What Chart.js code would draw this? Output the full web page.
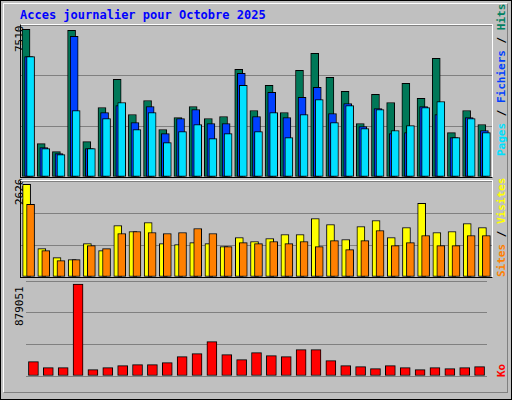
<!DOCTYPE html>
<html><head><meta charset="utf-8">
<script src="https://cdn.jsdelivr.net/npm/chart.js@4"></script>
<style>
html,body{margin:0;padding:0;}
body{width:512px;height:400px;background:#c0c0c0;position:relative;overflow:hidden;font-family:"DejaVu Sans Mono",monospace;}
#frame{position:absolute;left:0;top:0;width:510px;height:398px;border:1px solid #000;box-sizing:content-box;}
#inner{position:absolute;left:3px;top:3px;width:503px;height:388px;border-top:1px solid #fff;border-left:1px solid #fff;border-right:1px solid #808080;border-bottom:1px solid #808080;}
.t{position:absolute;white-space:nowrap;}
.rot{transform-origin:0 0;transform:rotate(-90deg);}
.panel{position:absolute;left:20px;width:471px;border-left:1px solid #000;border-bottom:1px solid #000;border-top:1px solid #fff;border-right:1px solid #fff;}
canvas{display:block;}
</style></head><body>
<div id="frame"></div><div id="inner"></div>
<div class="t" style="left:20px;top:8px;color:#0000ff;font-weight:bold;font-size:12px;">Acces journalier pour Octobre 2025</div>
<div class="t rot" style="left:13px;top:52px;font-size:11px;color:#000;">7510</div>
<div class="t rot" style="left:13px;top:205px;font-size:11px;color:#000;">2626</div>
<div class="t rot" style="left:13px;top:326px;font-size:11px;color:#000;">879051</div>
<div class="t rot" style="left:495px;top:156px;font-size:11px;font-weight:bold;"><span style="color:#00e0ff">Pages</span><span style="color:#000"> / </span><span style="color:#0040ff">Fichiers</span><span style="color:#000"> / </span><span style="color:#008060">Hits</span></div>
<div class="t rot" style="left:495px;top:277px;font-size:11px;font-weight:bold;"><span style="color:#ff8000">Sites</span><span style="color:#000"> / </span><span style="color:#ffff00">Visites</span></div>
<div class="t rot" style="left:495px;top:377px;font-size:11px;font-weight:bold;color:#ff0000">Ko</div>
<div class="panel" style="top:24px;height:152px;"><canvas id="c1" width="471" height="152"></canvas></div>
<div class="panel" style="top:180px;height:96px;"><canvas id="c2" width="471" height="96"></canvas></div>
<div style="position:absolute;left:20px;top:280px;width:473px;height:120px;"><canvas id="c3" width="473" height="120"></canvas></div>
<script>
const days = [1,2,3,4,5,6,7,8,9,10,11,12,13,14,15,16,17,18,19,20,21,22,23,24,25,26,27,28,29,30,31];
const weekendDays = [4,5,11,12,18,19,25,26];
const hits = [7510,1700,1292,7463,1802,3536,4964,3179,3893,2414,3026,3587,2975,3077,5474,3383,4658,3281,5423,6290,5066,4352,2720,4199,3791,4760,3995,6035,2261,3383,2669];
const files = [6120,1496,1190,7157,1445,3281,3638,2771,3587,2210,2975,3434,2720,2720,5270,3077,4301,3026,4046,4556,3230,3740,2567,3485,2210,2261,3587,3179,2006,3026,2363];
const pages = [6120,1445,1139,3383,1445,2975,3791,2414,3281,1751,2312,2669,1955,2210,4658,2312,3281,2006,3179,3944,2771,3638,2465,3434,2363,2618,3536,3842,2006,2975,2261];
const visits = [2626,806,550,493,948,749,1460,1289,1545,948,920,976,948,863,1119,1005,1090,1204,1204,1659,1488,1062,1431,1602,1119,1403,2086,1261,1289,1517,1403];
const visitors = [2057,749,465,493,891,806,1232,1289,1261,1232,1261,1375,1232,863,976,948,1005,948,1005,863,1033,777,1033,1318,891,976,1176,891,891,1176,1176];
const kb = [137471,79925,79925,879051,60743,79925,99107,108698,108698,127880,185426,214199,329291,204608,156653,223790,195017,185426,252563,252563,147062,99107,89516,70334,99107,79925,60743,79925,70334,79925,89516];

function pts(arr, off){ return arr.map((v,i)=>({x:days[i]+off,y:v})); }
function ds(arr, off, color, order, w){
  return {data:pts(arr,off),backgroundColor:color,borderColor:'#000',borderWidth:1,borderSkipped:false,barThickness:w,order:order,grouped:false};
}
function yScale(max){
  return {min:0,max:max,ticks:{display:false,stepSize:max/3},border:{display:false},
    grid:{color:'#808080',lineWidth:1,drawTicks:false},afterFit:s=>{s.width=0;}};
}
function xScale(show){
  return {type:'linear',min:0.5,max:31.5,display:show,offset:false,
    grid:{display:false},border:{display:false},
    ticks:{stepSize:1,autoSkip:false,maxRotation:0,padding:6,font:{family:'DejaVu Sans',size:11},
      color:c=>weekendDays.includes(c.tick.value)?'#008060':'#000',
      callback:v=>Number.isInteger(v)?String(v):''},
    afterFit:s=>{s.height=show?24:0;}};
}
const common = {responsive:false,animation:false,events:[],layout:{padding:0},
  plugins:{legend:{display:false},tooltip:{enabled:false}}};
new Chart(document.getElementById('c1'),{type:'bar',
  data:{datasets:[ds(hits,-0.17,'#007858',3,8),ds(files,0,'#0040ff',2,8),ds(pages,0.13,'#00e0ff',1,8)]},
  options:Object.assign({},common,{scales:{x:xScale(false),y:yScale(7731)}})});
new Chart(document.getElementById('c2'),{type:'bar',
  data:{datasets:[ds(visits,-0.13,'#ffff00',2,8),ds(visitors,0.13,'#ff8000',1,8)]},
  options:Object.assign({},common,{scales:{x:xScale(false),y:yScale(2721)}})});
new Chart(document.getElementById('c3'),{type:'bar',
  data:{datasets:[ds(kb,0,'#ff0000',1,10)]},
  options:Object.assign({},common,{layout:{padding:{right:2,top:1}},scales:{x:xScale(true),y:yScale(907948)}})});
</script>
</body></html>
